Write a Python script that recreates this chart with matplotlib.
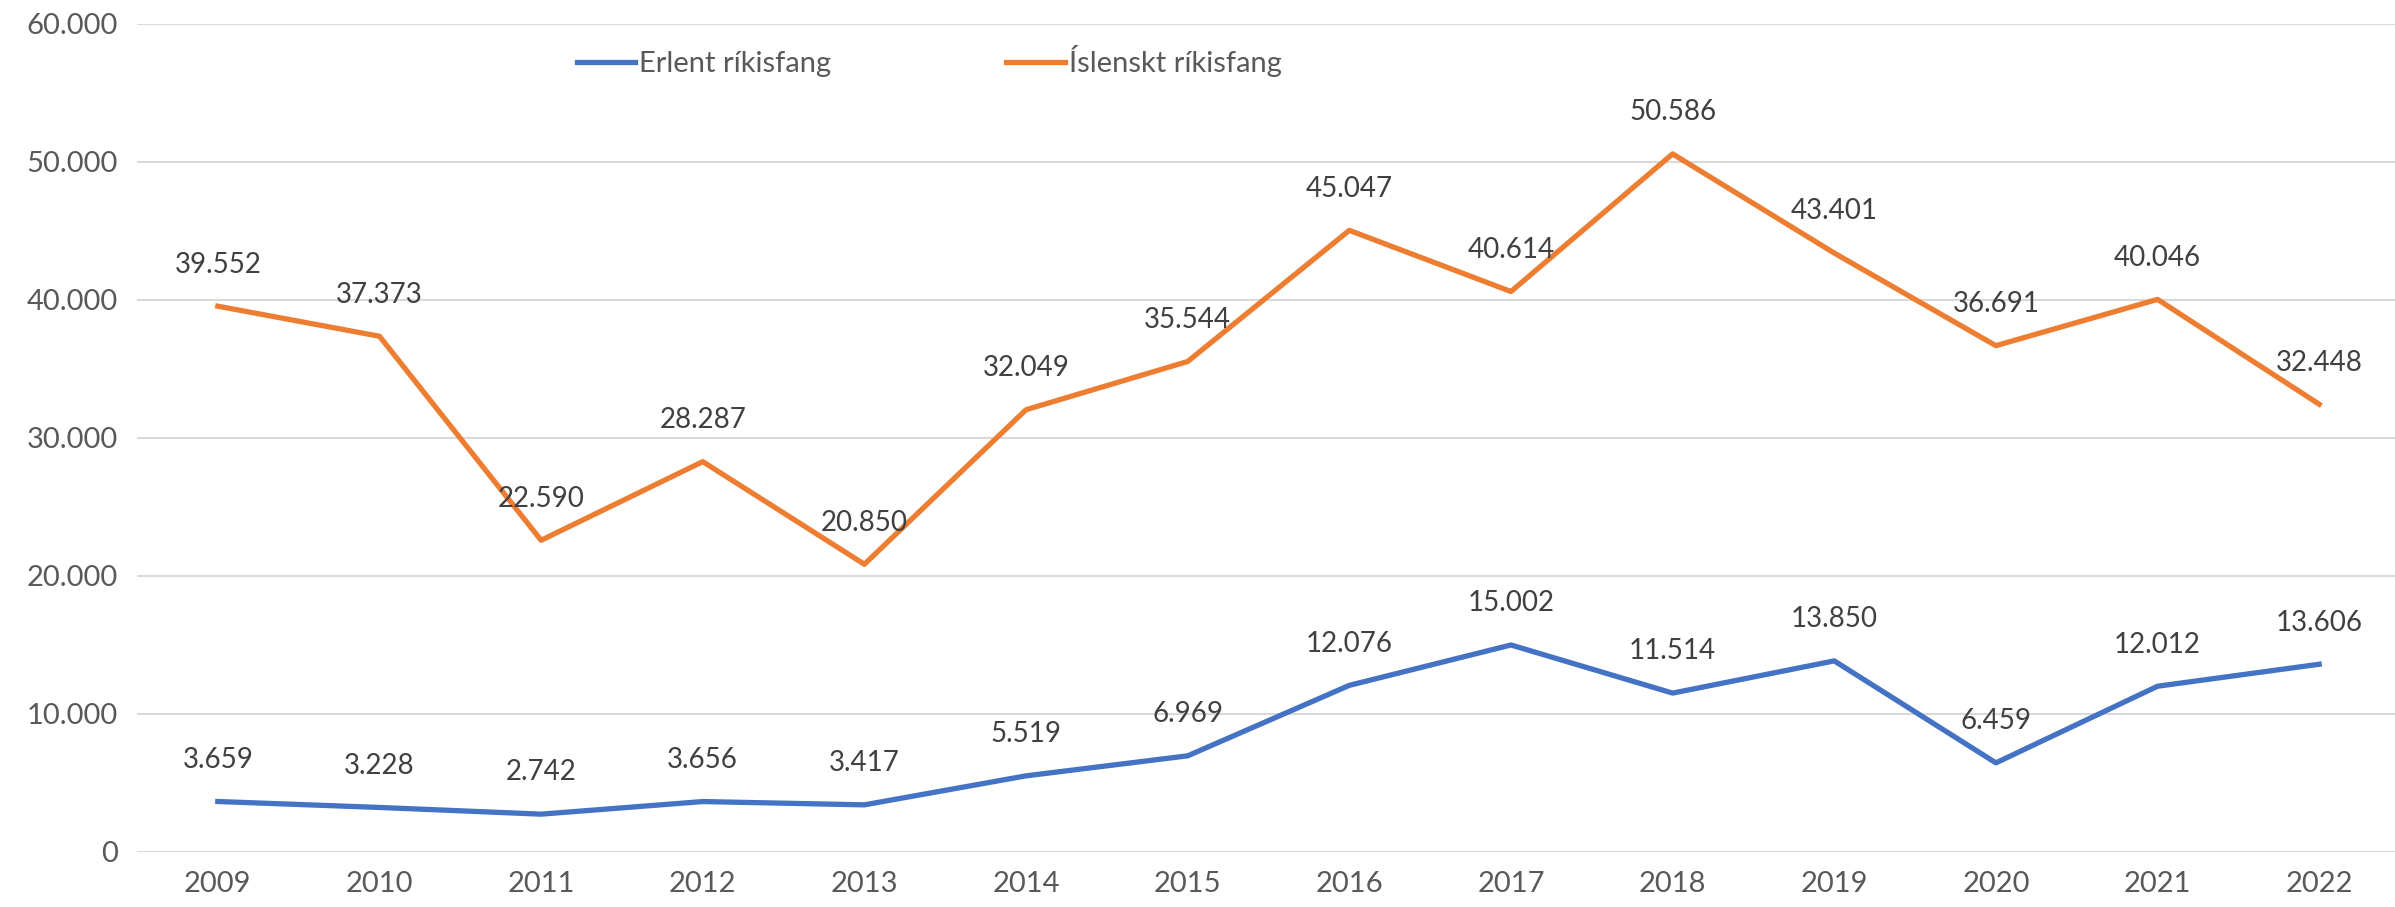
import matplotlib
matplotlib.use("Agg")
import matplotlib.pyplot as plt
from matplotlib.ticker import FuncFormatter

years = [2009, 2010, 2011, 2012, 2013, 2014, 2015, 2016, 2017, 2018, 2019, 2020, 2021, 2022]
erlent = [3659, 3228, 2742, 3656, 3417, 5519, 6969, 12076, 15002, 11514, 13850, 6459, 12012, 13606]
islenskt = [39552, 37373, 22590, 28287, 20850, 32049, 35544, 45047, 40614, 50586, 43401, 36691, 40046, 32448]
series_names = ["Erlent ríkisfang", "Íslenskt ríkisfang"]

BLUE = "#4472C4"
ORANGE = "#ED7D31"

plt.rcParams["font.family"] = ["Lato", "DejaVu Sans"]

fig = plt.figure(figsize=(23.95, 9.07), dpi=100)
ax = fig.add_axes([137/2395, 1 - 852/907, (2400 - 137)/2395, (852 - 24)/907])

def fmt(v):
    return f"{int(round(v)):,}".replace(",", ".")

x = list(range(len(years)))
ax.plot(x, erlent, color=BLUE, lw=3.8, label=series_names[0], solid_joinstyle="round")
ax.plot(x, islenskt, color=ORANGE, lw=3.8, label=series_names[1], solid_joinstyle="round")

for vals in (erlent, islenskt):
    for i, v in enumerate(vals):
        ax.annotate(fmt(v), (i, v), xytext=(0, 30), textcoords="offset points",
                    ha="center", va="center", fontsize=20, color="#404040")

ax.set_xlim(-0.5, len(years) - 0.5)
ax.set_ylim(0, 60000)
ax.set_yticks(range(0, 60001, 10000))
ax.yaxis.set_major_formatter(FuncFormatter(lambda v, p: fmt(v)))
ax.set_xticks(x)
ax.set_xticklabels([str(y) for y in years])
ax.tick_params(axis="both", length=0, labelsize=21, labelcolor="#595959")
ax.tick_params(axis="y", pad=14)
ax.tick_params(axis="x", pad=14)
ax.grid(axis="y", color="#D9D9D9", lw=1.5)
ax.set_axisbelow(True)
for s in ax.spines.values():
    s.set_visible(False)

fig.legend(loc="center", bbox_to_anchor=(0.388, 1 - 61/907), ncol=2, frameon=False,
           fontsize=21, labelcolor="#595959", handlelength=2.0, handletextpad=0.15,
           columnspacing=6.0)

fig.savefig("out.png", dpi=100)
